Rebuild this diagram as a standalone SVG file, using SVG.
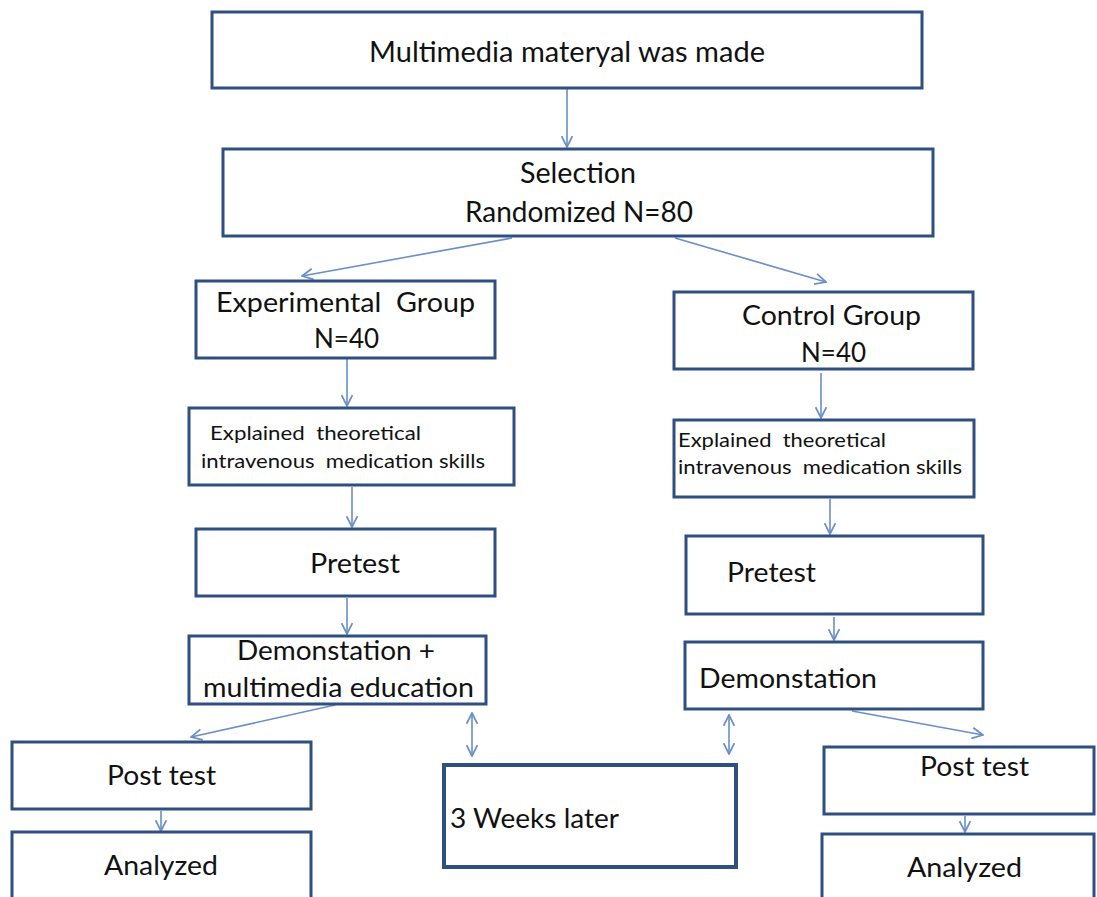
<svg xmlns="http://www.w3.org/2000/svg" width="1097" height="897" viewBox="0 0 1097 897" xml:space="preserve">
<style>
.box{fill:#ffffff;stroke:#2f4f80;stroke-width:3}
.thick{stroke-width:4}
.t{font-family:Lato,"Liberation Sans",sans-serif;fill:#111111;font-size:26px;white-space:pre}
.big{font-size:28px}
.sm{font-size:19px}
.con line{stroke:#6a8fc6;stroke-width:1.6;fill:none}
</style>
<defs>
<marker id="ah" viewBox="0 0 12 12" refX="11" refY="6" markerWidth="13" markerHeight="13" markerUnits="userSpaceOnUse" orient="auto-start-reverse">
<path d="M1,1 L11,6 L1,11" fill="none" stroke="#6a8fc6" stroke-width="1.6"/>
</marker>
</defs>
<rect width="1097" height="897" fill="#ffffff"/>

<g class="con">
<line x1="567" y1="89" x2="567" y2="147" marker-end="url(#ah)"/>
<line x1="512" y1="238" x2="302" y2="276" marker-end="url(#ah)"/>
<line x1="675" y1="238" x2="826" y2="282" marker-end="url(#ah)"/>
<line x1="347" y1="359" x2="347" y2="406" marker-end="url(#ah)"/>
<line x1="352" y1="487" x2="352" y2="527" marker-end="url(#ah)"/>
<line x1="347" y1="598" x2="347" y2="634" marker-end="url(#ah)"/>
<line x1="335" y1="705" x2="191" y2="737" marker-end="url(#ah)"/>
<line x1="161" y1="811" x2="161" y2="831" marker-end="url(#ah)"/>
<line x1="472" y1="713" x2="472" y2="756" marker-start="url(#ah)" marker-end="url(#ah)"/>
<line x1="729" y1="715" x2="729" y2="754" marker-start="url(#ah)" marker-end="url(#ah)"/>
<line x1="821" y1="373" x2="821" y2="418" marker-end="url(#ah)"/>
<line x1="830" y1="499" x2="830" y2="534" marker-end="url(#ah)"/>
<line x1="834" y1="617" x2="834" y2="640" marker-end="url(#ah)"/>
<line x1="852" y1="711" x2="983" y2="735" marker-end="url(#ah)"/>
<line x1="965" y1="816" x2="965" y2="832" marker-end="url(#ah)"/>
</g>

<g id="n-material">
<rect class="box" x="212" y="12" width="710" height="76"/>
<text class="t big" x="369" y="62" textLength="396" lengthAdjust="spacingAndGlyphs">Multimedia materyal was made</text>
</g>
<g id="n-selection">
<rect class="box" x="223" y="149" width="710" height="87"/>
<text class="t big" x="520" y="183" textLength="116" lengthAdjust="spacingAndGlyphs">Selection</text>
<text class="t big" x="465" y="222" textLength="228" lengthAdjust="spacingAndGlyphs">Randomized N=80</text>
</g>
<g id="n-exp">
<rect class="box" x="196" y="281" width="299" height="77"/>
<text class="t" x="216" y="312" textLength="259" lengthAdjust="spacingAndGlyphs">Experimental  Group</text>
<text class="t" x="314" y="348" textLength="65" lengthAdjust="spacingAndGlyphs">N=40</text>
</g>
<g id="n-exp-explained">
<rect class="box" x="189" y="408" width="325" height="77"/>
<text class="t sm" x="210" y="440" textLength="211" lengthAdjust="spacingAndGlyphs">Explained  theoretical</text>
<text class="t sm" x="201" y="468" textLength="284" lengthAdjust="spacingAndGlyphs">intravenous  medication skills</text>
</g>
<g id="n-exp-pretest">
<rect class="box" x="196" y="529" width="299" height="67"/>
<text class="t" x="310" y="573" textLength="90" lengthAdjust="spacingAndGlyphs">Pretest</text>
</g>
<g id="n-exp-demo">
<rect class="box" x="189" y="636" width="297" height="68"/>
<text class="t" x="237" y="660" textLength="198" lengthAdjust="spacingAndGlyphs">Demonstation +</text>
<text class="t" x="203" y="697" textLength="271" lengthAdjust="spacingAndGlyphs">multimedia education</text>
</g>
<g id="n-exp-post">
<rect class="box" x="12" y="742" width="299" height="67"/>
<text class="t" x="107" y="785" textLength="109" lengthAdjust="spacingAndGlyphs">Post test</text>
</g>
<g id="n-exp-analyzed">
<rect class="box" x="12" y="832" width="299" height="80"/>
<text class="t" x="104" y="875" textLength="114" lengthAdjust="spacingAndGlyphs">Analyzed</text>
</g>
<g id="n-weeks">
<rect class="box thick" x="444" y="765" width="292" height="102"/>
<text class="t" x="450" y="828" textLength="169" lengthAdjust="spacingAndGlyphs">3 Weeks later</text>
</g>
<g id="n-ctrl">
<rect class="box" x="674" y="292" width="299" height="77"/>
<text class="t" x="742" y="325" textLength="179" lengthAdjust="spacingAndGlyphs">Control Group</text>
<text class="t" x="801" y="362" textLength="65" lengthAdjust="spacingAndGlyphs">N=40</text>
</g>
<g id="n-ctrl-explained">
<rect class="box" x="674" y="420" width="300" height="77"/>
<text class="t sm" x="678" y="447" textLength="208" lengthAdjust="spacingAndGlyphs">Explained  theoretical</text>
<text class="t sm" x="678" y="474" textLength="284" lengthAdjust="spacingAndGlyphs">intravenous  medication skills</text>
</g>
<g id="n-ctrl-pretest">
<rect class="box" x="686" y="536" width="297" height="78"/>
<text class="t" x="727" y="582" textLength="89" lengthAdjust="spacingAndGlyphs">Pretest</text>
</g>
<g id="n-ctrl-demo">
<rect class="box" x="685" y="642" width="298" height="67"/>
<text class="t" x="699" y="688" textLength="178" lengthAdjust="spacingAndGlyphs">Demonstation</text>
</g>
<g id="n-ctrl-post">
<rect class="box" x="824" y="747" width="270" height="67"/>
<text class="t" x="920" y="776" textLength="109" lengthAdjust="spacingAndGlyphs">Post test</text>
</g>
<g id="n-ctrl-analyzed">
<rect class="box" x="822" y="834" width="272" height="80"/>
<text class="t" x="907" y="877" textLength="115" lengthAdjust="spacingAndGlyphs">Analyzed</text>
</g>
</svg>
